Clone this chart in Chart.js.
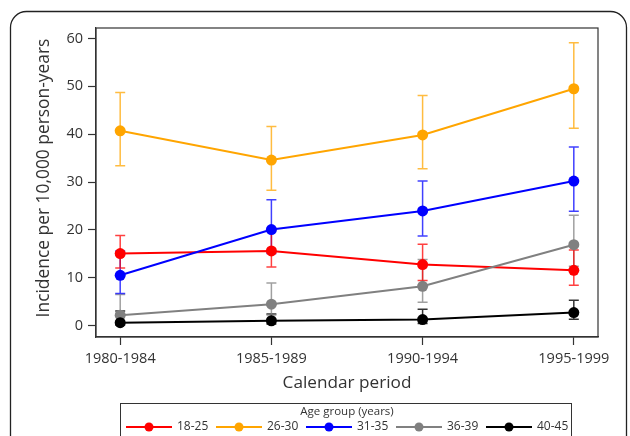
<!DOCTYPE html>
<html>
<head>
<meta charset="utf-8">
<script src="https://cdn.jsdelivr.net/npm/chart.js@4.4.1/dist/chart.umd.min.js"></script>
<style>
  html, body { margin: 0; padding: 0; background: #fff; }
  #wrap { width: 630px; height: 436px; }
</style>
</head>
<body>
<div id="wrap"><canvas id="myChart" width="630" height="436"></canvas></div>
<script>
// calendar periods on the x axis
var periods = ['1980-1984', '1985-1989', '1990-1994', '1995-1999'];
var groups = ['18-25', '26-30', '31-35', '36-39', '40-45'];

// incidence per 10,000 person-years, with lower / upper CI
var rate_18_25 = [15.05, 15.6, 12.75, 11.55];
var low_18_25  = [12.0, 12.25, 9.4, 8.4];
var high_18_25 = [18.8, 19.9, 17.0, 15.8];

var rate_26_30 = [40.7, 34.6, 39.85, 49.5];
var low_26_30  = [33.4, 28.3, 32.8, 41.25];
var high_26_30 = [48.7, 41.6, 48.1, 59.1];

var rate_31_35 = [10.5, 20.07, 23.96, 30.2];
var low_31_35  = [6.7, 15.05, 18.7, 23.9];
var high_31_35 = [15.6, 26.3, 30.2, 37.3];

var rate_36_39 = [2.15, 4.45, 8.2, 16.9];
var low_36_39  = [0.6, 2.2, 4.87, 12.4];
var high_36_39 = [6.5, 8.9, 13.8, 23.06];

var rate_40_45 = [0.6, 1.0, 1.25, 2.7];
var low_40_45  = [0.1, 0.3, 0.4, 1.3];
var high_40_45 = [3.05, 2.4, 3.4, 5.3];

var colors = ['#ff0000', '#ffa500', '#0000ff', '#808080', '#000000'];
var barColors = ['rgba(255,0,0,0.75)', 'rgba(255,165,0,0.75)', 'rgba(0,0,255,0.75)', 'rgba(128,128,128,0.75)', 'rgba(0,0,0,0.8)'];

var rates = [rate_18_25, rate_26_30, rate_31_35, rate_36_39, rate_40_45];
var lows = [low_18_25, low_26_30, low_31_35, low_36_39, low_40_45];
var highs = [high_18_25, high_26_30, high_31_35, high_36_39, high_40_45];

var FONT = "'Open Sans', 'DejaVu Sans', sans-serif";
var TEXT = '#333333';

function toPoints(arr) {
    var out = [];
    for (var i = 0; i < arr.length; i++) out.push({x: i, y: arr[i]});
    return out;
}

var datasets = [];
for (var i = 0; i < groups.length; i++) {
    datasets.push({
        label: groups[i],
        data: toPoints(rates[i]),
        borderColor: colors[i],
        backgroundColor: colors[i],
        pointBackgroundColor: colors[i],
        pointBorderWidth: 0,
        pointRadius: 5.5,
        borderWidth: 2,
        tension: 0,
        order: groups.length - i
    });
}

// frame round the whole figure, the box round the plot, y title and legend
var framePlugin = {
    id: 'frame',
    beforeDraw: function (chart) {
        var ctx = chart.ctx;
        ctx.save();
        ctx.fillStyle = '#fff';
        ctx.fillRect(0, 0, chart.width, chart.height);
        ctx.strokeStyle = '#222';
        ctx.lineWidth = 1.3;
        ctx.beginPath();
        ctx.roundRect(10.5, 11.5, 616, 450, 16);
        ctx.stroke();
        ctx.restore();
    },
    afterDraw: function (chart) {
        var ctx = chart.ctx, a = chart.chartArea;
        ctx.save();
        ctx.strokeStyle = '#333';
        ctx.lineWidth = 1.2;
        ctx.strokeRect(a.left, a.top, a.right - a.left, a.bottom - a.top);

        // y axis title
        ctx.save();
        ctx.translate(44, 178);
        ctx.rotate(-Math.PI / 2);
        ctx.fillStyle = TEXT;
        ctx.font = '17.4px ' + FONT;
        ctx.textAlign = 'center';
        ctx.textBaseline = 'middle';
        ctx.fillText('Incidence per 10,000 person-years', 0, 0);
        ctx.restore();

        // legend
        var bx = 120.5, by = 403.5, bw = 451, bh = 40;
        ctx.strokeStyle = '#333';
        ctx.lineWidth = 1;
        ctx.strokeRect(bx, by, bw, bh);
        ctx.fillStyle = TEXT;
        ctx.font = '11.5px ' + FONT;
        ctx.textAlign = 'center';
        ctx.textBaseline = 'middle';
        ctx.fillText('Age group (years)', 347, 412);
        ctx.font = '12px ' + FONT;
        ctx.textAlign = 'left';
        for (var i = 0; i < groups.length; i++) {
            var x0 = 126 + i * 90, y0 = 427;
            ctx.strokeStyle = colors[i];
            ctx.lineWidth = 2;
            ctx.beginPath();
            ctx.moveTo(x0, y0);
            ctx.lineTo(x0 + 46, y0);
            ctx.stroke();
            ctx.fillStyle = colors[i];
            ctx.beginPath();
            ctx.arc(x0 + 23, y0, 4.5, 0, Math.PI * 2);
            ctx.fill();
            ctx.fillStyle = TEXT;
            ctx.fillText(groups[i], x0 + 51, y0);
        }
        ctx.restore();
    }
};

// confidence interval bars, drawn under lines and points
var errorBarPlugin = {
    id: 'errorBars',
    beforeDatasetsDraw: function (chart) {
        var ctx = chart.ctx;
        var xs = chart.scales.x, ys = chart.scales.y;
        ctx.save();
        for (var i = groups.length - 1; i >= 0; i--) {
            ctx.strokeStyle = barColors[i];
            ctx.lineWidth = 1.5;
            for (var j = 0; j < periods.length; j++) {
                var px = xs.getPixelForValue(j);
                var top = ys.getPixelForValue(highs[i][j]);
                var bot = ys.getPixelForValue(lows[i][j]);
                ctx.beginPath();
                ctx.moveTo(px, top); ctx.lineTo(px, bot);
                ctx.moveTo(px - 5, top); ctx.lineTo(px + 5, top);
                ctx.moveTo(px - 5, bot); ctx.lineTo(px + 5, bot);
                ctx.stroke();
            }
        }
        ctx.restore();
    }
};

var ctx = document.getElementById('myChart');
window.myLine = new Chart(ctx, {
    type: 'line',
    data: { datasets: datasets },
    plugins: [framePlugin, errorBarPlugin],
    options: {
        responsive: false,
        animation: false,
        devicePixelRatio: 1,
        layout: { padding: { left: 24, top: 28, right: 32, bottom: 43 } },
        plugins: { legend: { display: false }, tooltip: { enabled: false } },
        scales: {
            x: {
                type: 'linear',
                min: -0.16,
                max: 3.16,
                afterFit: function (s) { s.height = 56; },
                ticks: {
                    stepSize: 1,
                    includeBounds: false,
                    autoSkip: false,
                    maxRotation: 0,
                    padding: 5,
                    color: TEXT,
                    font: { family: FONT, size: 14.5 },
                    callback: function (v) { return periods[v] || ''; }
                },
                grid: { drawOnChartArea: false, tickLength: 8, color: '#333', tickWidth: 1.2 },
                border: { color: '#333', width: 1.2 },
                title: { display: true, text: 'Calendar period', color: TEXT, font: { family: FONT, size: 17.2 }, padding: 0 }
            },
            y: {
                min: -2.4,
                max: 62.2,
                afterFit: function (s) { s.width = 72; },
                ticks: {
                    stepSize: 10,
                    includeBounds: false,
                    padding: 5,
                    color: TEXT,
                    font: { family: FONT, size: 14.5 }
                },
                grid: { drawOnChartArea: false, tickLength: 8, color: '#333', tickWidth: 1.2 },
                border: { color: '#333', width: 1.2 },
                title: { display: false }
            }
        }
    }
});
</script>
</body>
</html>
